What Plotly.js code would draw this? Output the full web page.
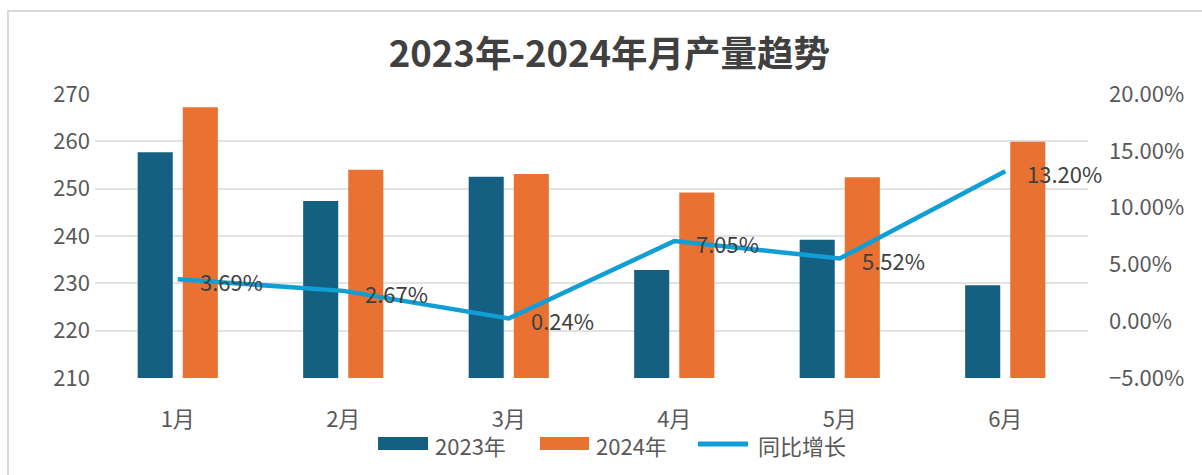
<!DOCTYPE html>
<html><head><meta charset="utf-8">
<script src="https://cdn.plot.ly/plotly-3.0.1.min.js"></script>
<style>
html,body{margin:0;padding:0;background:#fff;overflow:hidden;width:1202px;height:475px;}
#chart{width:1202px;height:475px;position:absolute;left:0;top:0;}
#frame{position:absolute;left:7px;top:10px;width:1195px;height:465px;border-left:2px solid #d9d9d9;border-top:2px solid #d9d9d9;pointer-events:none;box-sizing:border-box;}
</style></head>
<body>
<div id="chart"></div>
<div id="frame"></div>
<script>
const months = ['1月','2月','3月','4月','5月','6月'];
const y2023 = [257.7, 247.4, 252.5, 232.8, 239.2, 229.6];
const y2024 = [267.2, 254.0, 253.1, 249.2, 252.4, 259.9];
const growth = [0.0369, 0.0267, 0.0024, 0.0705, 0.0552, 0.1320];
const growthLabels = ['3.69%','2.67%','0.24%','7.05%','5.52%','13.20%'];
const seriesNames = ['2023年','2024年','同比增长'];
const seriesColors = ['#156082','#E97132','#0F9ED5'];

const narrow = '"Liberation Sans Narrow","Arial Narrow","Noto Sans CJK SC",sans-serif';
const tickFont = {family:narrow, size:22, color:'#595959'};

const traces = [
  {type:'bar', name:seriesNames[0], x:months, y:y2023, marker:{color:seriesColors[0]}, hoverinfo:'skip', showlegend:false},
  {type:'bar', name:seriesNames[1], x:months, y:y2024, marker:{color:seriesColors[1]}, hoverinfo:'skip', showlegend:false},
  {type:'scatter', mode:'lines', name:seriesNames[2], x:months, y:growth, yaxis:'y2',
   line:{color:seriesColors[2], width:4.5}, hoverinfo:'skip', showlegend:false}
];

const annotations = months.map((m,i)=>({
  x:m, y:growth[i], xref:'x', yref:'y2', text:growthLabels[i], showarrow:false,
  xanchor:'left', yanchor:'middle', xshift:20, yshift:-2,
  font:{family:narrow, size:22, color:'#404040'}
}));

// manual legend (paper coords: plot area 95..1088 x, 94..378 y)
const W = 993, H = 284;
const px = v => (v-95)/W, py = v => (378-v)/H;
const legendItems = [
  {x0:378, x1:428, tx:433, kind:'rect'},
  {x0:540, x1:589, tx:594, kind:'rect'},
  {x0:698, x1:748, tx:756, kind:'line'}
];
const shapes = [];
legendItems.forEach((it,i)=>{
  if(it.kind==='rect'){
    shapes.push({type:'rect', xref:'paper', yref:'paper', x0:px(it.x0), x1:px(it.x1), y0:py(450), y1:py(437),
      fillcolor:seriesColors[i], line:{width:0}});
  } else {
    shapes.push({type:'line', xref:'paper', yref:'paper', x0:px(it.x0), x1:px(it.x1), y0:py(444), y1:py(444),
      line:{color:seriesColors[i], width:5}});
  }
  annotations.push({xref:'paper', yref:'paper', x:px(it.tx), y:py(445), text:seriesNames[i], showarrow:false,
    xanchor:'left', yanchor:'middle', font:{family:narrow, size:22, color:'#595959'}});
});

const layout = {
  width:1202, height:475,
  margin:{l:95, r:114, t:94, b:97, autoexpand:false},
  paper_bgcolor:'#ffffff', plot_bgcolor:'#ffffff',
  title:{text:'2023年-2024年月产量趋势', x:0.507, xanchor:'center', y:0.885, yanchor:'middle',
    font:{family:'"Noto Sans CJK SC",sans-serif', size:36.5, color:'#404040', weight:'bold'}, automargin:false},
  barmode:'group', bargap:0.455, bargroupgap:0.222,
  xaxis:{type:'category', range:[-0.5,5.5], tickfont:tickFont, showgrid:false, zeroline:false, showline:false, ticks:'',
    ticklabelstandoff:26, automargin:false},
  yaxis:{range:[210,270], tick0:210, dtick:10, tickfont:tickFont, showgrid:true, gridcolor:'#e3e3e3', gridwidth:2,
    zeroline:false, showline:false, ticks:'', ticklabelstandoff:4, automargin:false},
  yaxis2:{overlaying:'y', side:'right', range:[-0.05,0.20], tick0:-0.05, dtick:0.05, tickformat:'.2%',
    tickfont:tickFont, showgrid:false, zeroline:false, showline:false, ticks:'', ticklabelstandoff:20, automargin:false},
  showlegend:false,
  annotations:annotations,
  shapes:shapes
};

Plotly.newPlot('chart', traces, layout, {displayModeBar:false, staticPlot:true});
</script>
</body></html>
